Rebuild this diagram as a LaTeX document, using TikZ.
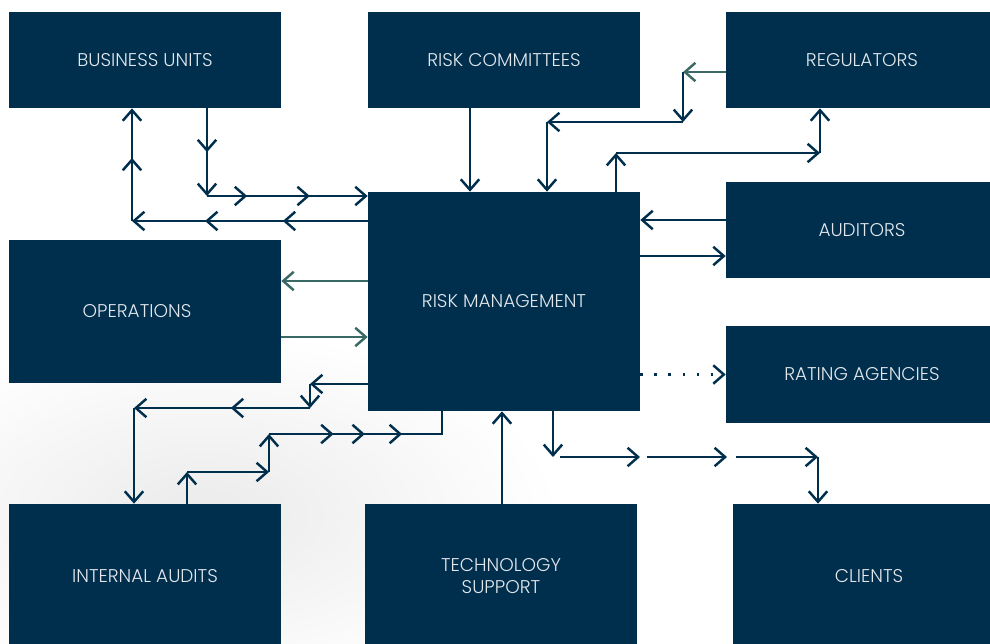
\documentclass[tikz,border=0pt]{standalone}
\usepackage{fontspec}
\IfFontExistsTF{Poppins Light}{\setmainfont{Poppins Light}}{\setmainfont{Poppins}}
\usetikzlibrary{arrows.meta,decorations.markings}
\definecolor{navy}{RGB}{0,46,77}
\definecolor{flowgreen}{RGB}{58,106,102}
\definecolor{boxtext}{RGB}{226,231,236}
\tikzset{>/.tip={Straight Barb[length=6pt,width=10.5pt]},
  box/.style={fill=navy, text=boxtext, minimum width=5.44cm, minimum height=#1, inner sep=0pt,
    align=center, font=\fontsize{10.5}{12.5}\selectfont},
  box/.default=1.92cm,
  link/.style={navy, line width=1.4pt, ->},
  midtip/.style={postaction={decorate, decoration={markings, mark=at position #1 with {\arrow{>}}}}},
  dots/.style={dash pattern=on 1.4pt off 6.6pt}}

\begin{document}
\begin{tikzpicture}[x=0.02cm, y=-0.02cm]
\useasboundingbox (0,0) rectangle (990,643);
\shade[inner color=black!8, outer color=white] (-150,330) rectangle (560,700);

\node[box] (bu) at (145,60) {BUSINESS UNITS};
\node[box] (rc) at (504,60) {RISK COMMITTEES};
\node[box] (reg) at (862,60) {REGULATORS};
\node[box] (aud) at (862,230) {AUDITORS};
\node[box=4.38cm] (rm) at (504,301.5) {RISK MANAGEMENT};
\node[box=2.86cm] (ops) at (145,311.5) {OPERATIONS\hspace*{0.32cm}};
\node[box=1.94cm] (rate) at (862,374.5) {RATING AGENCIES};
\node[box=2.88cm] (ia) at (145,576) {INTERNAL AUDITS};
\node[box=2.88cm] (tech) at (501,576) {TECHNOLOGY\\SUPPORT};
\node[box=2.88cm] (cli) at (869,576) {CLIENTS};

% business units
\coordinate (c1) at (207,196);
\coordinate (c2) at (132,221);
\draw[link, midtip=0.5] (bu.south -| c1) -- (c1);
\draw[link, midtip=0.25, midtip=0.64] (c1) -- (rm.west |- c1);
\draw[link, midtip=0.36, midtip=0.69] (rm.west |- c2) -- (c2);
\draw[link, midtip=0.56] (c2) -- (bu.south -| c2);

% risk committees
\coordinate (c3) at (470,150);
\draw[link] (rc.south -| c3) -- (rm.north -| c3);

% regulators
\coordinate (c4) at (683,72);
\coordinate (c5) at (547,122);
\draw[link, flowgreen] (reg.west |- c4) -- (c4);
\draw[link] (c4) -- (c4 |- c5);
\draw[link] (c4 |- c5) -- (c5);
\draw[link] (c5) -- (rm.north -| c5);
\coordinate (c6) at (616,153);
\coordinate (c7) at (820,153);
\draw[link] (rm.north -| c6) -- (c6);
\draw[link] (c6) -- (c7);
\draw[link] (c7) -- (reg.south -| c7);

% auditors
\coordinate (c8) at (680,220);
\coordinate (c9) at (680,256);
\draw[link] (aud.west |- c8) -- (rm.east |- c8);
\draw[link] (rm.east |- c9) -- (aud.west |- c9);

% operations
\coordinate (c10) at (320,281);
\coordinate (c11) at (320,337);
\draw[link, flowgreen] (rm.west |- c10) -- (ops.east |- c10);
\draw[link, flowgreen] (ops.east |- c11) -- (rm.west |- c11);

% rating agencies
\draw[link, dots] (rm.east |- rate) -- (rate.west);

% clients
\coordinate (c12) at (553,457);
\coordinate (c13) at (640,457);
\coordinate (c14) at (727,457);
\coordinate (c15) at (818,457);
\draw[link] (rm.south -| c12) -- (c12);
\draw[link, shorten <=0.14cm] (c12) -- (c13);
\draw[link, shorten <=0.14cm] (c13) -- (c14);
\draw[link, shorten <=0.18cm] (c14) -- (c15);
\draw[link] (c15) -- (cli.north -| c15);

% internal audits
\coordinate (c16) at (310,384);
\coordinate (c17) at (134,408);
\draw[link] (rm.west |- c16) -- (c16);
\draw[link] (c16) -- (c16 |- c17);
\draw[link, midtip=0.45] (c16 |- c17) -- (c17);
\draw[link] (c17) -- (ia.north -| c17);
\coordinate (c18) at (187,472);
\coordinate (c19) at (269,434);
\coordinate (c20) at (442,434);
\draw[link] (ia.north -| c18) -- (c18);
\draw[link] (c18) -- (c19 |- c18);
\draw[link] (c19 |- c18) -- (c19);
\draw[link, -, midtip=0.33, midtip=0.49, midtip=0.68] (c19) -- (c20) -- (rm.south -| c20);

% technology support
\coordinate (c21) at (502,500);
\draw[link] (tech.north -| c21) -- (rm.south -| c21);
\end{tikzpicture}
\end{document}
